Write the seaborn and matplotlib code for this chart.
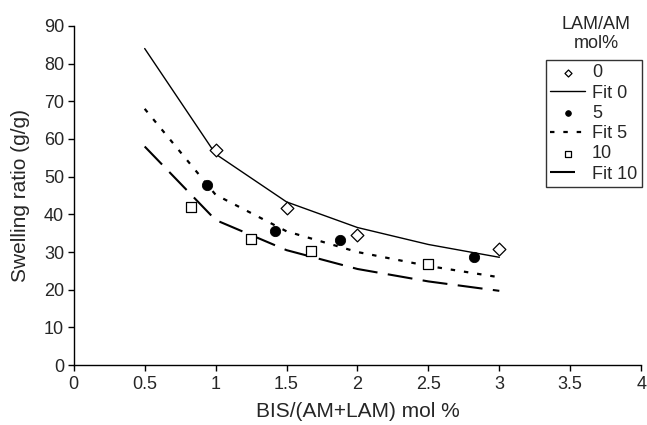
import numpy as np
import pandas as pd
import matplotlib
matplotlib.use('Agg')
import matplotlib.pyplot as plt
import seaborn as sns

# measured points, LAM/AM mol% = 0, 5, 10
x0 = [1.0, 1.5, 2.0, 3.0]
y0 = [57.0, 41.8, 34.5, 30.8]
x5 = [0.94, 1.42, 1.88, 2.82]
y5 = [47.7, 35.5, 33.2, 28.6]
x10 = [0.83, 1.25, 1.67, 2.5]
y10 = [42.0, 33.4, 30.2, 26.8]

# fitted curves
fit_x = [0.5, 1.0, 1.5, 2.0, 2.5, 3.0]
fit0 = [84.0, 56.0, 43.3, 36.5, 32.0, 28.6]
fit5 = [68.0, 45.2, 35.5, 30.0, 26.3, 23.3]
fit10 = [58.0, 38.5, 30.5, 25.5, 22.2, 19.7]

sns.set_style('white')
plt.rcParams['font.family'] = ['Liberation Sans', 'DejaVu Sans']

fig = plt.figure(figsize=(6.47, 4.25), dpi=100)
ax = fig.add_axes([0.114, 0.141, 0.877, 0.798])

sns.scatterplot(x=x0, y=y0, marker='D', s=42, facecolor='white', edgecolor='black',
                linewidth=0.9, label='0', ax=ax, zorder=3)
sns.lineplot(x=fit_x, y=fit0, color='black', lw=1.0, label='Fit 0', ax=ax)
sns.scatterplot(x=x5, y=y5, marker='o', s=55, color='black', edgecolor='black',
                label='5', ax=ax, zorder=3)
sns.lineplot(x=fit_x, y=fit5, color='black', lw=1.6, ls=(0, (2, 4)), label='Fit 5', ax=ax)
sns.scatterplot(x=x10, y=y10, marker='s', s=48, facecolor='white', edgecolor='black',
                linewidth=0.9, label='10', ax=ax, zorder=3)
sns.lineplot(x=fit_x, y=fit10, color='black', lw=1.5, ls=(0, (12, 5)), label='Fit 10', ax=ax)

ax.set_xlim(0, 4)
ax.set_ylim(0, 90)
ax.set_xticks(np.arange(0, 4.01, 0.5))
ax.set_xticklabels(['0', '0.5', '1', '1.5', '2', '2.5', '3', '3.5', '4'])
ax.set_yticks(range(0, 91, 10))
ax.tick_params(axis='both', direction='out', length=4, width=1, color='black',
               labelsize=13, pad=3, left=True, bottom=True)
ax.tick_params(axis='x', pad=4)
for s in ['top', 'right']:
    ax.spines[s].set_visible(False)
for s in ['left', 'bottom']:
    ax.spines[s].set_color('black')
    ax.spines[s].set_linewidth(1)

ax.set_xlabel('BIS/(AM+LAM) mol %', fontsize=15, labelpad=6)
ax.set_ylabel('Swelling ratio (g/g)', fontsize=15, labelpad=10)

leg = ax.legend(loc='upper left', bbox_to_anchor=(0.832, 0.9), frameon=True,
                fontsize=13, labelspacing=0.18, handlelength=1.9, handletextpad=0.4,
                borderpad=0.25, borderaxespad=0, fancybox=False, markerscale=0.55)
leg.get_frame().set_edgecolor('black')
leg.get_frame().set_linewidth(1)
fig.text(0.921, 0.92, 'LAM/AM\nmol%', ha='center', va='center', fontsize=13,
         linespacing=1.15)

fig.savefig('out.png', dpi=100)
